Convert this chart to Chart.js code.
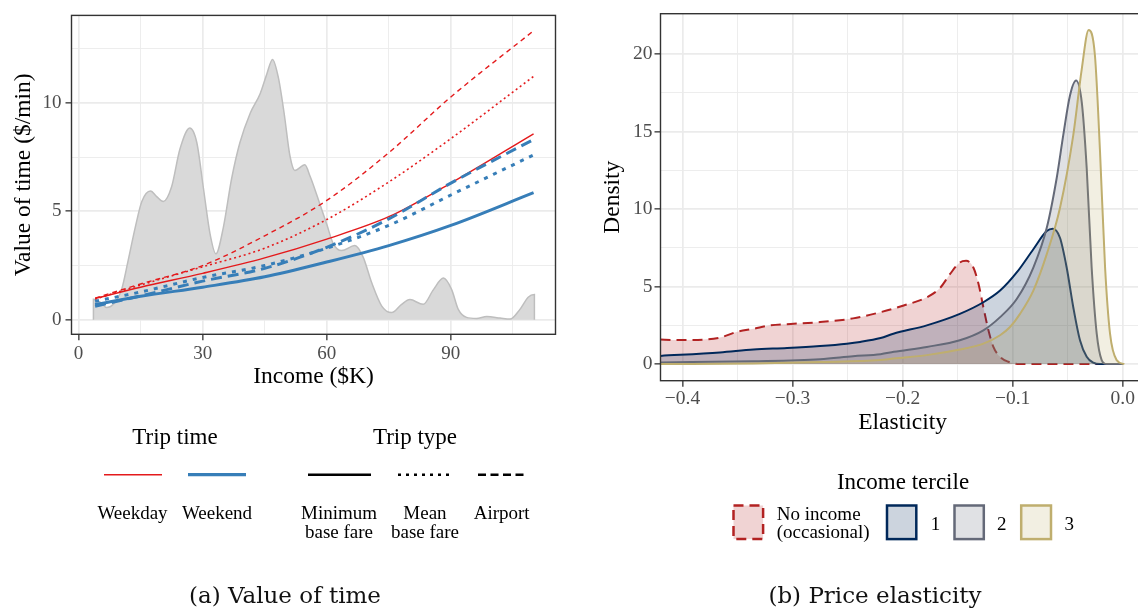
<!DOCTYPE html>
<html>
<head>
<meta charset="utf-8">
<script src="https://cdn.jsdelivr.net/npm/chart.js@4.4.0/dist/chart.umd.min.js"></script>
<style>
  html, body { margin: 0; padding: 0; background: #fff; overflow: hidden; }
  #wrap { position: relative; width: 1138px; height: 608px; overflow: hidden; font-family: 'Liberation Serif', serif; color: #000; }
  .box { position: absolute; }
  .t { position: absolute; transform: translate(-50%, -50%); white-space: nowrap; text-align: center; }
  .tl { position: absolute; transform: translate(0, -50%); white-space: nowrap; }
  .title { font-size: 23px; }
  .lab { font-size: 19px; line-height: 19px; }
  .cap { font-family: 'DejaVu Serif', serif; font-size: 23px; color: #111; }
  svg { position: absolute; left: 0; top: 0; }
</style>
</head>
<body>
<div id="wrap">
  <div class="box" style="left:0;top:0;width:560px;height:400px"><canvas id="vot"></canvas></div>
  <div class="box" style="left:580px;top:0;width:566px;height:440px"><canvas id="ela"></canvas></div>

  <svg width="1138" height="608">
    <line x1="104" y1="474.7" x2="162" y2="474.7" stroke="#E41A1C" stroke-width="1.4"/>
    <line x1="188" y1="474.7" x2="246" y2="474.7" stroke="#377EB8" stroke-width="3.2"/>
    <line x1="308" y1="474.7" x2="371" y2="474.7" stroke="#000" stroke-width="2.6"/>
    <line x1="398" y1="474.7" x2="452" y2="474.7" stroke="#000" stroke-width="2.4" stroke-dasharray="3 5"/>
    <line x1="478" y1="474.7" x2="525" y2="474.7" stroke="#000" stroke-width="2.4" stroke-dasharray="8 4.5"/>
    <rect x="733.5" y="505.5" width="29.6" height="33.6" fill="#F0D3D3" stroke="#B22222" stroke-width="2.5" stroke-dasharray="10 6"/>
    <rect x="887" y="505.5" width="29.3" height="33.6" fill="#CCD4DE" stroke="#00285A" stroke-width="2.5"/>
    <rect x="954.5" y="505.5" width="29.3" height="33.6" fill="#E0E1E4" stroke="#646978" stroke-width="2.5"/>
    <rect x="1021.2" y="505.5" width="29.8" height="33.6" fill="#F2EFE2" stroke="#BFAE6E" stroke-width="2.5"/>
  </svg>

  <div class="t title" style="left:175px;top:437px">Trip time</div>
  <div class="t title" style="left:415px;top:437px">Trip type</div>
  <div class="t lab" style="left:132.5px;top:512px">Weekday</div>
  <div class="t lab" style="left:217px;top:512px">Weekend</div>
  <div class="t lab" style="left:339px;top:521.5px">Minimum<br>base fare</div>
  <div class="t lab" style="left:425px;top:521.5px">Mean<br>base fare</div>
  <div class="t lab" style="left:501.7px;top:512px">Airport</div>
  <div class="t cap" style="left:285px;top:595px">(a) Value of time</div>

  <div class="t title" style="left:903px;top:482px">Income tercile</div>
  <div class="tl lab" style="left:776.7px;top:523px;line-height:18px">No income<br>(occasional)</div>
  <div class="t lab" style="left:935.5px;top:523px">1</div>
  <div class="t lab" style="left:1001.7px;top:523px">2</div>
  <div class="t lab" style="left:1069.3px;top:523px">3</div>
  <div class="t cap" style="left:875px;top:595px">(b) Price elasticity</div>
</div>

<script>
// (a) Value of time by income
const incomeK = [4, 15, 30, 45, 60, 75, 90, 110];
const weekdayMinFare = [0.98, 1.5, 2.14, 2.85, 3.72, 4.75, 6.3, 8.57];
const weekdayMeanFare = [0.95, 1.6, 2.44, 3.3, 4.62, 6.35, 8.35, 11.22];
const weekdayAirport = [1.0, 1.65, 2.5, 3.87, 5.5, 7.7, 10.27, 13.32];
const weekendMinFare = [0.7, 1.08, 1.5, 1.98, 2.66, 3.42, 4.35, 5.86];
const weekendMeanFare = [0.85, 1.28, 1.95, 2.5, 3.3, 4.35, 5.75, 7.6];
const weekendAirport = [0.62, 1.1, 1.78, 2.37, 3.34, 4.65, 6.3, 8.31];

// income distribution in the background (scaled to the y axis)
const incomeGrid = [3.6, 3.6, 5.3, 6.8, 8.4, 10.4, 12.0, 13.7, 15.3, 17.4, 18.9, 20.5, 22.5, 24.5, 26.9, 28.6,
  30.2, 31.8, 33.2, 35.0, 37.0, 39.0, 41.5, 43.9, 45.5, 46.9, 48.3, 49.7, 51.1, 52.3, 54.7, 56.0, 57.6, 60.0,
  61.6, 63.6, 66.8, 68.8, 70.9, 73.3, 75.7, 78.1, 80.1, 83.3, 85.8, 88.2, 90.2, 91.8, 93.8, 96.2, 98.7, 101.9,
  104.3, 106.7, 108.7, 110.2, 110.2];
const incomeDensity = [0, 0.95, 0.8, 0.56, 0.71, 1.39, 2.74, 4.25, 5.45, 5.93, 5.68, 5.45, 6.13, 7.86, 8.84, 8.16,
  6.05, 3.95, 3.04, 4.25, 6.5, 8.16, 9.52, 10.42, 11.32, 12.0, 11.17, 9.52, 7.56, 6.88, 7.14, 6.6, 5.75, 4.4,
  3.5, 3.19, 3.42, 2.89, 1.69, 0.63, 0.33, 0.71, 0.93, 0.71, 1.39, 1.92, 1.39, 0.48, 0.11, 0.06, 0.15, 0.08,
  0.03, 0.48, 1.04, 1.16, 0];

const incomeTicks = [0, 15, 30, 45, 60, 75, 90, 105];
const votTicks = [0, 2.5, 5, 7.5, 10, 12.5];

// (b) Price elasticity densities by income tercile
const elasNoIncome = [-0.42, -0.408, -0.396, -0.366, -0.351, -0.3355, -0.32, -0.299, -0.275, -0.245, -0.22, -0.199,
  -0.178, -0.166, -0.157, -0.148, -0.1423, -0.1357, -0.131, -0.1266, -0.122, -0.1175, -0.1114, -0.1039, -0.0933, 0];
const densNoIncome = [1.58, 1.56, 1.56, 1.71, 2.07, 2.28, 2.5, 2.6, 2.71, 2.95, 3.35, 3.78,
  4.31, 4.91, 5.8, 6.55, 6.66, 6.23, 5.17, 3.67, 2.18, 1.11, 0.47, 0.15, 0, 0];
const elasT1 = [-0.42, -0.366, -0.3355, -0.305, -0.275, -0.2507, -0.2386, -0.22, -0.2084, -0.178, -0.148, -0.1266,
  -0.1114, -0.0963, -0.0812, -0.069, -0.0636, -0.057, -0.0509, -0.0449, -0.0388, -0.0327, -0.0267, -0.0206, 0];
const densT1 = [0.53, 0.75, 0.94, 1.04, 1.17, 1.32, 1.43, 1.68, 1.96, 2.5, 3.24, 3.99,
  4.74, 5.91, 7.41, 8.58, 8.73, 8.15, 6.23, 3.67, 1.54, 0.47, 0.09, 0, 0];
const elasT2 = [-0.42, -0.3355, -0.275, -0.245, -0.22, -0.208, -0.178, -0.148, -0.1266, -0.1114, -0.0963, -0.0812,
  -0.069, -0.06, -0.054, -0.0479, -0.0424, -0.0372, -0.0327, -0.0282, -0.0236, -0.0191, -0.0146, 0];
const densT2 = [0.11, 0.19, 0.32, 0.51, 0.64, 0.79, 1.11, 1.54, 2.18, 3.03, 4.2, 6.23,
  8.79, 11.99, 14.77, 17.33, 18.29, 16.9, 12.63, 6.23, 1.96, 0.26, 0, 0];
const elasT3 = [-0.42, -0.3355, -0.275, -0.22, -0.2084, -0.178, -0.148, -0.1266, -0.1114, -0.1024, -0.0933, -0.0812,
  -0.069, -0.057, -0.0449, -0.0372, -0.0309, -0.0252, -0.0206, -0.016, -0.0115, -0.0055, 0.0015];
const densT3 = [0, 0.04, 0.13, 0.26, 0.36, 0.58, 0.94, 1.32, 1.86, 2.39, 3.24, 4.74,
  7.09, 10.07, 14.77, 19.03, 21.55, 19.89, 13.7, 6.23, 1.96, 0.26, 0];

const elasTicks = [-0.4, -0.35, -0.3, -0.25, -0.2, -0.15, -0.1, -0.05, 0];
const densTicks = [0, 2.5, 5, 7.5, 10, 12.5, 15, 17.5, 20];

const pts = (xs, ys) => xs.map((x, i) => ({ x, y: ys[i] }));
const serif = 'Liberation Serif';

// box round the panel, drawn on top like ggplot's panel border
const frame = {
  id: 'frame',
  afterDatasetsDraw(chart) {
    const { ctx, chartArea: a } = chart;
    ctx.save();
    ctx.strokeStyle = '#333333';
    ctx.lineWidth = 1.4;
    ctx.strokeRect(a.left, a.top, a.right - a.left, a.bottom - a.top);
    ctx.restore();
  }
};

function gridFor(isMajor) {
  return {
    color: '#EBEBEB',
    lineWidth: c => (c.tick && isMajor(c.tick.value)) ? 1.7 : 0.9,
    tickColor: c => (c.tick && isMajor(c.tick.value)) ? '#333333' : 'rgba(0,0,0,0)',
    tickWidth: 1.3,
    tickLength: 6
  };
}

function line(label, xs, ys, color, width, dash, order) {
  return {
    label, data: pts(xs, ys), borderColor: color, borderWidth: width, borderDash: dash,
    pointRadius: 0, fill: false, cubicInterpolationMode: 'monotone', order
  };
}

function area(label, xs, ys, color, fillColor, dash, order) {
  return {
    label, data: pts(xs, ys), borderColor: color, backgroundColor: fillColor, borderWidth: 2,
    borderDash: dash, pointRadius: 0, fill: 'origin', cubicInterpolationMode: 'monotone', order
  };
}

const RED = '#E41A1C', BLUE = '#377EB8';

new Chart(document.getElementById('vot'), {
  type: 'line',
  data: {
    datasets: [
      {
        label: 'Income distribution', data: pts(incomeGrid, incomeDensity),
        borderColor: '#BEBEBE', borderWidth: 1.5, backgroundColor: '#D9D9D9',
        fill: 'origin', pointRadius: 0, cubicInterpolationMode: 'monotone', order: 20
      },
      line('Weekday, minimum base fare', incomeK, weekdayMinFare, RED, 1.4, [], 12),
      line('Weekday, mean base fare', incomeK, weekdayMeanFare, RED, 1.6, [2, 3], 11),
      line('Weekday, airport', incomeK, weekdayAirport, RED, 1.4, [5, 4], 10),
      line('Weekend, minimum base fare', incomeK, weekendMinFare, BLUE, 3, [], 3),
      line('Weekend, mean base fare', incomeK, weekendMeanFare, BLUE, 3, [4, 6], 2),
      line('Weekend, airport', incomeK, weekendAirport, BLUE, 3, [11, 6], 1)
    ]
  },
  options: {
    responsive: true,
    maintainAspectRatio: false,
    animation: false,
    layout: { padding: { top: 11, right: 4.5, left: 0, bottom: 0 } },
    plugins: { legend: { display: false }, tooltip: { enabled: false } },
    scales: {
      x: {
        type: 'linear', min: -1.7, max: 115.3,
        afterBuildTicks: s => { s.ticks = incomeTicks.map(v => ({ value: v })); },
        afterFit: s => { s.height = 65.7; },
        ticks: {
          autoSkip: false, maxRotation: 0, padding: 2, color: '#4D4D4D',
          font: { family: serif, size: 19 },
          callback: v => (v % 30 === 0 ? String(v) : '')
        },
        grid: gridFor(v => v % 30 === 0),
        border: { display: false },
        title: { display: true, text: 'Income ($K)', color: '#000', font: { family: serif, size: 23.5 }, padding: { top: 0, bottom: 9 } }
      },
      y: {
        min: -0.67, max: 14.03,
        afterBuildTicks: s => { s.ticks = votTicks.map(v => ({ value: v })); },
        afterFit: s => { s.width = 71.5; },
        ticks: {
          autoSkip: false, padding: 4, color: '#4D4D4D',
          font: { family: serif, size: 19 },
          callback: v => (v % 5 === 0 ? String(v) : '')
        },
        grid: gridFor(v => v % 5 === 0),
        border: { display: false },
        title: { display: true, text: 'Value of time ($/min)', color: '#000', font: { family: serif, size: 23.5 }, padding: { top: 10, bottom: 0 } }
      }
    }
  },
  plugins: [frame]
});

const majorElas = v => Math.abs(v * 10 - Math.round(v * 10)) < 1e-6;

new Chart(document.getElementById('ela'), {
  type: 'line',
  data: {
    datasets: [
      area('No income (occasional)', elasNoIncome, densNoIncome, '#B22222', 'rgba(178,34,34,0.2)', [10, 6], 4),
      area('1', elasT1, densT1, '#00285A', 'rgba(0,40,90,0.2)', [], 3),
      area('2', elasT2, densT2, '#646978', 'rgba(100,105,120,0.2)', [], 2),
      area('3', elasT3, densT3, '#BFAE6E', 'rgba(191,174,110,0.2)', [], 1)
    ]
  },
  options: {
    responsive: true,
    maintainAspectRatio: false,
    animation: false,
    layout: { padding: { top: 11, right: 1.3, left: 0, bottom: 0 } },
    plugins: { legend: { display: false }, tooltip: { enabled: false } },
    scales: {
      x: {
        type: 'linear', min: -0.42, max: 0.02,
        afterBuildTicks: s => { s.ticks = elasTicks.map(v => ({ value: v })); },
        afterFit: s => { s.height = 59.3; },
        ticks: {
          autoSkip: false, maxRotation: 0, padding: 0, color: '#4D4D4D',
          font: { family: serif, size: 19.5 },
          callback: v => {
            if (!majorElas(v)) return '';
            return Math.abs(v) < 1e-9 ? '0.0' : '\u2212' + Math.abs(v).toFixed(1);
          }
        },
        grid: gridFor(majorElas),
        border: { display: false },
        title: { display: true, text: 'Elasticity', color: '#000', font: { family: serif, size: 23.5 }, padding: { top: 0, bottom: 3 } }
      },
      y: {
        min: -1.07, max: 22.6,
        afterBuildTicks: s => { s.ticks = densTicks.map(v => ({ value: v })); },
        afterFit: s => { s.width = 80.5; },
        ticks: {
          autoSkip: false, padding: 2, color: '#4D4D4D',
          font: { family: serif, size: 19.5 },
          callback: v => (v % 5 === 0 ? String(v) : '')
        },
        grid: gridFor(v => v % 5 === 0),
        border: { display: false },
        title: { display: true, text: 'Density', color: '#000', font: { family: serif, size: 23.5 }, padding: { top: 19, bottom: 0 } }
      }
    }
  },
  plugins: [frame]
});
</script>
</body>
</html>
